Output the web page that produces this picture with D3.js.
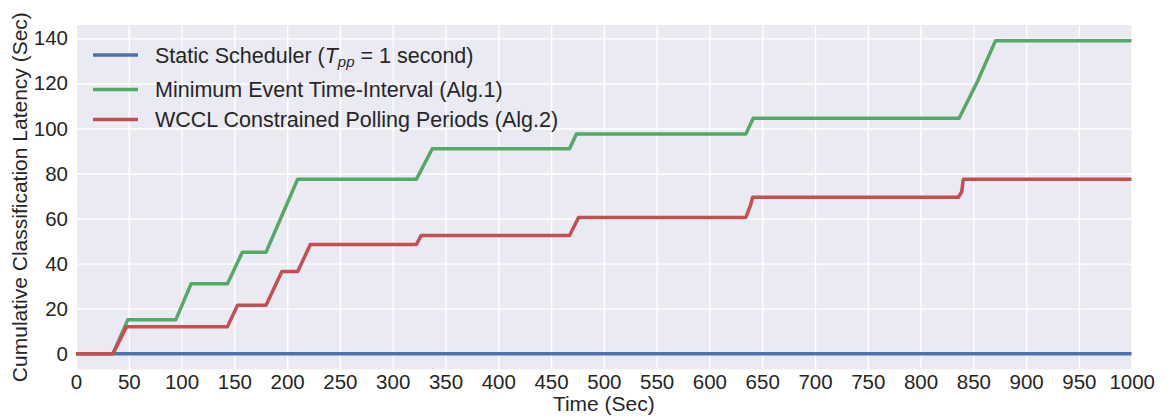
<!DOCTYPE html>
<html>
<head>
<meta charset="utf-8">
<script src="https://cdn.jsdelivr.net/npm/d3@7"></script>
<style>
  html, body { margin: 0; padding: 0; background: #ffffff; }
  svg { display: block; font-family: "Liberation Sans", Arial, sans-serif; }
</style>
</head>
<body>
<svg id="chart" width="1168" height="418"></svg>
<script>
// ---- data ----
const xTicks = [0,50,100,150,200,250,300,350,400,450,500,550,600,650,700,750,800,850,900,950,1000];
const yTicks = [0,20,40,60,80,100,120,140];

const staticT = [0, 1000];
const staticV = [0, 0];

const alg1T = [0, 35, 49, 94.5, 109, 143.5, 157.5, 180, 210, 322.5, 337.5, 467.5, 474, 634.5, 641.5, 836.5, 854, 871, 1000];
const alg1V = [0, 0, 15, 15, 31, 31, 45, 45, 77.5, 77.5, 91, 91, 97.5, 97.5, 104.5, 104.5, 121, 139, 139];

const alg2T = [0, 35, 48, 143.5, 153, 180, 195, 210, 222, 322.5, 327, 467.5, 476, 634.5, 639, 641, 836, 839, 840.5, 1000];
const alg2V = [0, 0, 12, 12, 21.5, 21.5, 36.5, 36.5, 48.5, 48.5, 52.5, 52.5, 60.5, 60.5, 66, 69.5, 69.5, 72, 77.5, 77.5];

const seriesNames = [
  "Static Scheduler",
  "Minimum Event Time-Interval (Alg.1)",
  "WCCL Constrained Polling Periods (Alg.2)"
];
const seriesColors = ["#4C72B0", "#55A868", "#C44E52"];

// ---- layout ----
const svg = d3.select("#chart");
const pL = 76, pR = 1131.7, pT = 25, pB = 369.3;
const textColor = "#262626";

const x = d3.scaleLinear().domain([0, 1000]).range([pL, pR]);
const y = d3.scaleLinear().domain([-6.95, 145.95]).range([pB, pT]);

svg.append("rect").attr("x", pL).attr("y", pT)
  .attr("width", pR - pL).attr("height", pB - pT)
  .attr("fill", "#EAEAF2");

// grid
const gx = svg.append("g").attr("transform", `translate(0,${pB})`)
  .call(d3.axisBottom(x).tickValues(xTicks).tickSize(-(pB - pT)).tickFormat(""));
gx.select(".domain").remove();
gx.selectAll("line").attr("stroke", "#ffffff").attr("stroke-width", 1.4);

const gy = svg.append("g").attr("transform", `translate(${pL},0)`)
  .call(d3.axisLeft(y).tickValues(yTicks).tickSize(-(pR - pL)).tickFormat(""));
gy.select(".domain").remove();
gy.selectAll("line").attr("stroke", "#ffffff").attr("stroke-width", 1.4);

// tick labels
const ax = svg.append("g").attr("transform", `translate(0,${pB})`)
  .call(d3.axisBottom(x).tickValues(xTicks).tickSize(0).tickPadding(5).tickFormat(d3.format("d")));
ax.select(".domain").remove();
ax.selectAll("text").attr("font-size", 20.5).attr("fill", textColor)
  .attr("font-family", "Liberation Sans, Arial, sans-serif");

const ay = svg.append("g").attr("transform", `translate(${pL},0)`)
  .call(d3.axisLeft(y).tickValues(yTicks).tickSize(0).tickPadding(8).tickFormat(d3.format("d")));
ay.select(".domain").remove();
ay.selectAll("text").attr("font-size", 20.5).attr("fill", textColor)
  .attr("font-family", "Liberation Sans, Arial, sans-serif");

// axis titles
svg.append("text").attr("x", (pL + pR) / 2).attr("y", 411)
  .attr("text-anchor", "middle").attr("font-size", 21).attr("fill", textColor)
  .text("Time (Sec)");
svg.append("text")
  .attr("transform", `translate(27,${(pT + pB) / 2}) rotate(-90)`)
  .attr("text-anchor", "middle").attr("font-size", 21).attr("fill", textColor)
  .text("Cumulative Classification Latency (Sec)");

// lines
svg.append("clipPath").attr("id", "plotclip")
  .append("rect").attr("x", pL).attr("y", pT).attr("width", pR - pL).attr("height", pB - pT);

const line = d3.line().x(d => x(d[0])).y(d => y(d[1])).curve(d3.curveLinear);
const series = [
  d3.zip(staticT, staticV),
  d3.zip(alg1T, alg1V),
  d3.zip(alg2T, alg2V)
];
const lg = svg.append("g").attr("clip-path", "url(#plotclip)");
series.forEach((s, i) => {
  lg.append("path").datum(s).attr("d", line)
    .attr("fill", "none").attr("stroke", seriesColors[i])
    .attr("stroke-width", 3.5).attr("stroke-linejoin", "round").attr("stroke-linecap", "butt");
});

// legend
const legRows = [55, 89.5, 119.5];
const leg = svg.append("g");
seriesNames.forEach((name, i) => {
  leg.append("line").attr("x1", 93).attr("x2", 138)
    .attr("y1", legRows[i]).attr("y2", legRows[i])
    .attr("stroke", seriesColors[i]).attr("stroke-width", 3.5);
  const t = leg.append("text").attr("x", 155).attr("y", legRows[i] + 7.5)
    .attr("font-size", 21.5).attr("fill", textColor);
  if (i === 0) {
    t.append("tspan").text(name + " (");
    t.append("tspan").attr("font-style", "italic").text("T");
    t.append("tspan").attr("font-style", "italic").attr("font-size", 15).attr("dy", 4).text("pp");
    t.append("tspan").attr("dy", -4).text(" = 1 second)");
  } else {
    t.text(name);
  }
});
</script>
</body>
</html>
